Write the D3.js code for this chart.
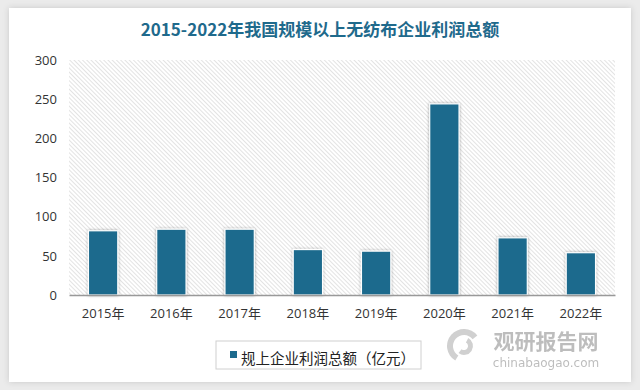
<!DOCTYPE html>
<html>
<head>
<meta charset="utf-8">
<script src="https://cdn.jsdelivr.net/npm/d3@7"></script>
<style>
  body { margin: 0; background: #ebebeb; }
  text { font-family: "Noto Sans CJK SC", "Noto Sans", sans-serif; }
</style>
</head>
<body>
<div id="chart"></div>
<script>
// data
const years = ["2015年", "2016年", "2017年", "2018年", "2019年", "2020年", "2021年", "2022年"];
const profits = [82, 84, 84, 58, 56, 244, 73, 54];
const yTicks = [0, 50, 100, 150, 200, 250, 300];
const seriesName = "规上企业利润总额（亿元）";
const title = "2015-2022年我国规模以上无纺布企业利润总额";

const W = 640, H = 390;
const margin = {top: 60, right: 25, bottom: 95, left: 69};
const width = W - margin.left - margin.right;
const height = H - margin.top - margin.bottom;

const svg = d3.select("#chart").append("svg")
    .attr("width", W)
    .attr("height", H);

const defs = svg.append("defs");

// panel shadow
const ps = defs.append("filter").attr("id", "panelShadow")
    .attr("x", "-5%").attr("y", "-5%").attr("width", "110%").attr("height", "110%");
ps.append("feDropShadow").attr("dx", 0).attr("dy", 0)
    .attr("stdDeviation", 3).attr("flood-color", "#000").attr("flood-opacity", 0.15);

// bar shadow
const bs = defs.append("filter").attr("id", "barShadow")
    .attr("x", "-30%").attr("y", "-10%").attr("width", "160%").attr("height", "120%");
bs.append("feDropShadow").attr("dx", 0).attr("dy", 0)
    .attr("stdDeviation", 1.6).attr("flood-color", "#000").attr("flood-opacity", 0.35);

// diagonal hatch for plot background (lines running top-left to bottom-right)
const pat = defs.append("pattern").attr("id", "hatch")
    .attr("patternUnits", "userSpaceOnUse")
    .attr("width", 3).attr("height", 3)
    .attr("patternTransform", "rotate(-45)");
pat.append("rect").attr("width", 3).attr("height", 3).attr("fill", "#fff");
pat.append("line").attr("x1", 0).attr("y1", 0).attr("x2", 0).attr("y2", 3)
    .attr("stroke", "#d0d0d0").attr("stroke-width", 1.2);

// white panel
svg.append("rect")
    .attr("x", 9).attr("y", 8)
    .attr("width", 622).attr("height", 374)
    .attr("fill", "#fff")
    .attr("filter", "url(#panelShadow)");

svg.append("text")
    .attr("x", 320).attr("y", 36)
    .attr("text-anchor", "middle")
    .style("font-size", "17px")
    .style("font-weight", "bold")
    .style("fill", "#1f6a8c")
    .text(title);

const g = svg.append("g")
    .attr("transform", `translate(${margin.left},${margin.top})`);

const x = d3.scaleBand()
    .domain(years)
    .range([0, width])
    .paddingInner(0.57)
    .paddingOuter(0.285);

const y = d3.scaleLinear()
    .domain([0, 300])
    .range([height, 0]);

g.append("rect")
    .attr("width", width)
    .attr("height", height)
    .attr("fill", "url(#hatch)");

// y axis labels
const yAxis = g.append("g")
    .call(d3.axisLeft(y).tickValues(yTicks).tickSize(0).tickPadding(12));
yAxis.select(".domain").remove();
yAxis.selectAll("text")
    .style("font-family", "'Open Sans', 'Noto Sans', sans-serif")
    .style("font-size", "13px")
    .style("fill", "#333");

// bars
g.selectAll(".bar")
    .data(profits)
    .enter().append("rect")
    .attr("class", "bar")
    .attr("x", (d, i) => x(years[i]))
    .attr("y", d => y(d))
    .attr("width", x.bandwidth())
    .attr("height", d => height - y(d))
    .attr("fill", "#1c6a8d")
    .attr("stroke", "#fff")
    .attr("stroke-width", 1.2)
    .attr("filter", "url(#barShadow)");

// x axis
const xAxis = g.append("g")
    .attr("transform", `translate(0,${height})`)
    .call(d3.axisBottom(x).tickSize(0).tickPadding(14));
xAxis.select(".domain").attr("stroke", "#999").attr("stroke-width", 1.5);
xAxis.selectAll("text")
    .style("font-family", "'Open Sans', 'Noto Sans CJK SC', sans-serif")
    .style("font-size", "13px")
    .style("fill", "#333");

// legend
const lg = svg.append("g").attr("transform", "translate(216,341)");
lg.append("rect")
    .attr("width", 205).attr("height", 28)
    .attr("fill", "#fff")
    .attr("stroke", "#d0d0d0");
lg.append("rect")
    .attr("x", 14).attr("y", 10)
    .attr("width", 7).attr("height", 7)
    .attr("fill", "#1c6a8d");
lg.append("text")
    .attr("x", 25).attr("y", 19)
    .attr("dominant-baseline", "middle")
    .style("font-size", "14.5px")
    .style("fill", "#222")
    .text(seriesName);

// watermark
const wm = svg.append("g").attr("opacity", 0.55);
const logo = wm.append("g").attr("transform", "translate(464,346)");
const arc = d3.arc();
logo.append("path")
    .attr("d", arc({innerRadius: 11, outerRadius: 17, startAngle: -2.6, endAngle: 0.9}))
    .attr("fill", "#aaa");
logo.append("path")
    .attr("d", arc({innerRadius: 4, outerRadius: 9, startAngle: 0.5, endAngle: 3.8}))
    .attr("fill", "#aaa");
wm.append("text")
    .attr("x", 546).attr("y", 349)
    .attr("text-anchor", "middle")
    .style("font-size", "21px")
    .style("font-weight", "bold")
    .style("fill", "#888")
    .text("观研报告网");
wm.append("text")
    .attr("x", 546).attr("y", 367)
    .attr("text-anchor", "middle")
    .style("font-family", "'DejaVu Sans', sans-serif")
    .style("font-size", "12px")
    .style("fill", "#888")
    .text("chinabaogao.com");
</script>
</body>
</html>
